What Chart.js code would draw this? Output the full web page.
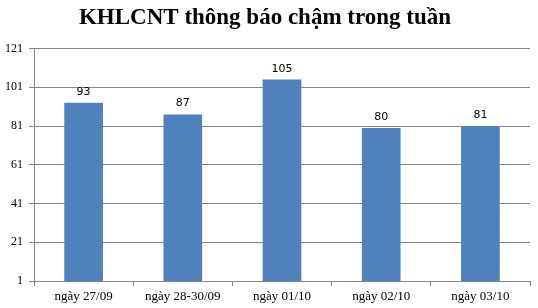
<!DOCTYPE html>
<html>
<head>
<meta charset="utf-8">
<script src="https://cdn.jsdelivr.net/npm/chart.js@4/dist/chart.umd.min.js"></script>
<style>
html,body{margin:0;padding:0;background:#fff;}
#wrap{width:538px;height:308px;position:relative;}
</style>
</head>
<body>
<div id="wrap"><canvas id="c" width="538" height="308"></canvas></div>
<script>
const categories = ["ngày 27/09", "ngày 28-30/09", "ngày 01/10", "ngày 02/10", "ngày 03/10"];
const values = [93, 87, 105, 80, 81];
const yMin = 1, yMax = 121, yStep = 20;
const titleText = "KHLCNT thông báo chậm trong tuần";

const valueLabels = {
  id: 'valueLabels',
  afterDatasetsDraw(chart) {
    const ctx = chart.ctx;
    const meta = chart.getDatasetMeta(0);
    ctx.save();
    ctx.font = '11px "DejaVu Sans", sans-serif';
    ctx.fillStyle = '#000';
    ctx.textAlign = 'center';
    ctx.textBaseline = 'alphabetic';
    meta.data.forEach((bar, i) => {
      ctx.fillText(String(values[i]), bar.x, bar.y - 8);
    });
    ctx.restore();
  }
};

new Chart(document.getElementById('c'), {
  type: 'bar',
  data: {
    labels: categories,
    datasets: [{
      data: values,
      backgroundColor: '#4F81BD',
      borderWidth: 0,
      categoryPercentage: 1.0,
      barPercentage: 0.39
    }]
  },
  options: {
    responsive: false,
    animation: false,
    devicePixelRatio: 1,
    layout: { padding: { left: 0, right: 8, top: 0, bottom: 0 } },
    plugins: {
      legend: { display: false },
      tooltip: { enabled: false },
      title: {
        display: true,
        text: titleText,
        color: '#000',
        font: { family: '"Liberation Serif", "Times New Roman", serif', size: 23, weight: 'bold', lineHeight: 1.2 },
        padding: { top: 4, bottom: 17 }
      }
    },
    scales: {
      x: {
        offset: true,
        grid: {
          display: true,
          offset: true,
          drawOnChartArea: false,
          drawTicks: true,
          tickLength: 5,
          color: '#868686'
        },
        border: { display: true, color: '#868686' },
        ticks: {
          color: '#000',
          font: { family: '"Liberation Serif", "Times New Roman", serif', size: 13 },
          padding: 3,
          maxRotation: 0,
          autoSkip: false
        },
        afterFit(scale) { scale.height = 27; }
      },
      y: {
        min: yMin,
        max: yMax,
        grid: {
          color: '#868686',
          drawTicks: true,
          tickLength: 5
        },
        border: { display: true, color: '#868686' },
        ticks: {
          stepSize: yStep,
          color: '#000',
          font: { family: '"Liberation Serif", "Times New Roman", serif', size: 12 },
          padding: 6
        },
        afterFit(scale) { scale.width = 34; }
      }
    }
  },
  plugins: [valueLabels]
});
</script>
</body>
</html>
